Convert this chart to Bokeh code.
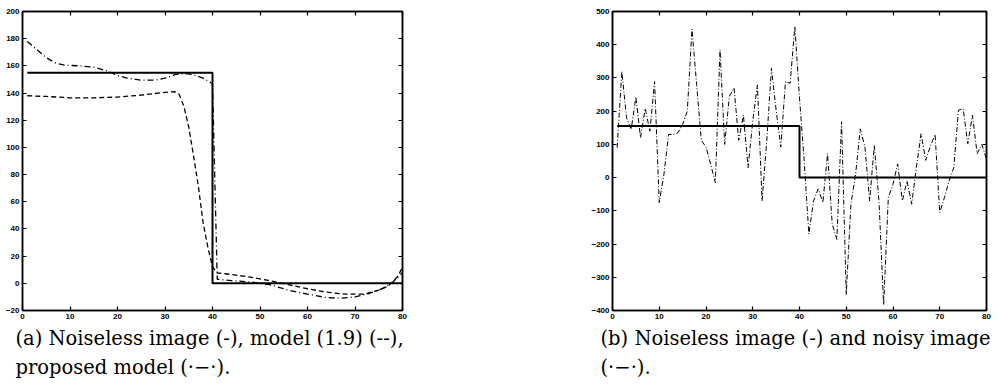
from bokeh.plotting import figure
from bokeh.models import Range1d, LinearAxis, FixedTicker, Title, CustomLabelingPolicy
from bokeh.layouts import row
from bokeh.embed import file_html
from bokeh.resources import INLINE

# ---------------- data ----------------
x_index = list(range(1, 81))
noiseless = [155] * 40 + [0] * 40

model19_x = [1, 5, 10, 15, 20, 25, 30, 32, 33, 34, 35, 36, 37, 38, 39, 40, 41, 44, 48, 52, 56, 60, 64, 68, 72, 75, 77, 79, 80]
model19_y = [138, 137.5, 136.5, 136.5, 137, 138.5, 140.5, 141, 139, 130, 115, 94, 72, 45, 27, 12, 7.6, 6.5, 4.5, 2, -1, -4, -6.5, -8, -8, -5, -2, 5, 12]

proposed_x = [1, 3, 5, 7, 9, 12, 15, 18, 20, 22, 25, 28, 30, 32, 34, 36, 38, 39.5, 40, 41, 44, 48, 52, 56, 60, 64, 67, 70, 73, 76, 78, 80]
proposed_y = [178, 172, 166, 162, 160.5, 160, 159, 156, 153, 151, 149.5, 149.5, 151, 153.5, 154.5, 153.5, 151, 148, 147, 3, 2, 1, -1, -5, -8, -10.5, -11, -10, -7.5, -3.5, 1, 8]

noisy = [90, 320, 180, 145, 243, 120, 208, 140, 289, -75,
         10, 130, 130, 135, 160, 200, 447, 280, 112, 92,
         40, -15, 385, 100, 245, 270, 112, 188, 30, 170,
         279, -70, 112, 329, 203, 92, 289, 284, 455, 240,
         50, -170, -70, -34, -75, 72, -140, -186, 168, -352,
         -80, 10, 147, 92, -70, 97, -70, -383, -60, -20,
         41, -70, -10, -80, 31, 132, 52, 95, 130, -105,
         -60, -10, 30, 203, 208, 102, 188, 72, 100, 55]

x_ticks = [0, 10, 20, 30, 40, 50, 60, 70, 80]
y_ticks_a = [-20, 0, 20, 40, 60, 80, 100, 120, 140, 160, 180, 200]
y_ticks_b = [-400, -300, -200, -100, 0, 100, 200, 300, 400, 500]

caption_a = ["(a) Noiseless image (-), model (1.9) (--),", "proposed model (\u00b7\u2212\u00b7)."]
caption_b = ["(b) Noiseless image (-) and noisy image", "(\u00b7\u2212\u00b7)."]

TICK_FONT = "Liberation Sans"
CAP_FONT = "DejaVu Serif"

NO_LABELS = CustomLabelingPolicy(code="""
const all = [...indices]
for (const i of all) indices.unset(i)
return indices
""")


def style(p, xt, yt, caption, cap_offset, first_standoff):
    p.background_fill_color = "white"
    p.border_fill_color = "white"
    p.outline_line_color = "black"
    p.outline_line_width = 1.5
    p.xgrid.visible = False
    p.ygrid.visible = False
    p.add_layout(LinearAxis(), "right")
    p.add_layout(LinearAxis(), "above")
    for ax in p.xaxis:
        ax.ticker = FixedTicker(ticks=xt)
    for ax in p.yaxis:
        ax.ticker = FixedTicker(ticks=yt)
    for ax in list(p.xaxis) + list(p.yaxis):
        ax.axis_line_color = "black"
        ax.axis_line_width = 1.5
        ax.major_tick_in = 4
        ax.major_tick_out = 0
        ax.major_tick_line_color = "black"
        ax.major_tick_line_width = 1.2
        ax.minor_tick_line_color = None
        ax.major_label_text_font = TICK_FONT
        ax.major_label_text_font_style = "bold"
        ax.major_label_text_font_size = "8px"
        ax.major_label_text_color = "black"
        ax.major_label_standoff = 3
    for ax in p.right + p.above:
        if isinstance(ax, LinearAxis):
            ax.major_label_policy = NO_LABELS
            ax.major_label_text_font_size = "0px"
            ax.major_label_standoff = 0
    for i, line in enumerate(caption):
        t = Title(text=line, align="left", offset=cap_offset,
                  standoff=first_standoff if i == 0 else 0,
                  text_font=CAP_FONT, text_font_size="19.5px",
                  text_font_style="normal", text_color="black")
        p.add_layout(t, "below")


# ---------------- panel (a) ----------------
pa = figure(width=422, height=380, output_backend="svg", toolbar_location=None,
            x_range=Range1d(0, 80), y_range=Range1d(-20, 200),
            min_border_left=22, min_border_right=20, min_border_top=9, min_border_bottom=68)
pa.step(x_index, noiseless, mode="before", line_color="black", line_width=2)
pa.line(model19_x, model19_y, line_color="black", line_width=1.3, line_dash="5 3")
pa.line(proposed_x, proposed_y, line_color="black", line_width=1.3, line_dash="6 3 1 3")
style(pa, x_ticks, y_ticks_a, caption_a, -7, 7)

# ---------------- panel (b) ----------------
pb = figure(width=572, height=380, output_backend="svg", toolbar_location=None,
            x_range=Range1d(0, 80), y_range=Range1d(-400, 500),
            min_border_left=190, min_border_right=8, min_border_top=11, min_border_bottom=70)
pb.step(x_index, noiseless, mode="before", line_color="black", line_width=2)
pb.line(x_index, noisy, line_color="black", line_width=1, line_dash="5 2 1 2")
style(pb, x_ticks, y_ticks_b, caption_b, -12, 7)

layout = row(pa, pb)
open("out.html", "w").write(file_html(layout, INLINE))
